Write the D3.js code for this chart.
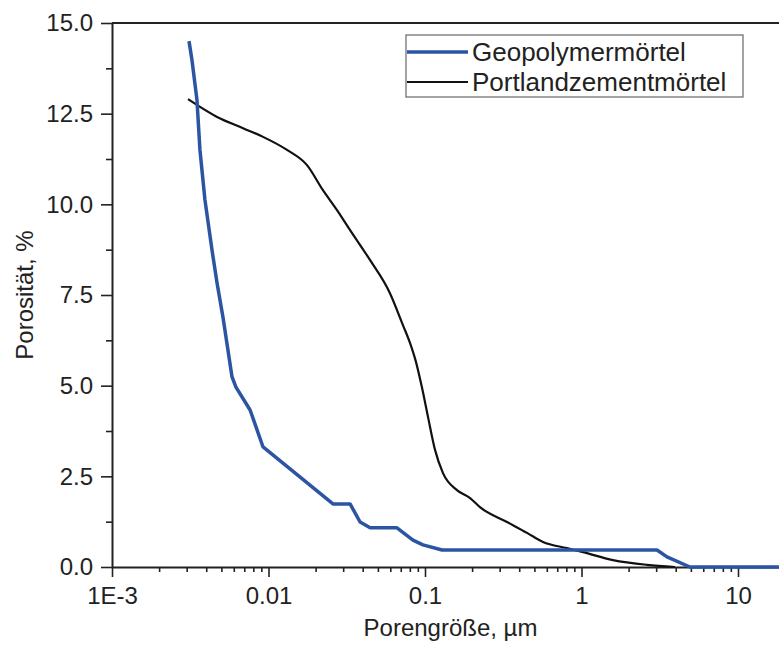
<!DOCTYPE html>
<html>
<head>
<meta charset="utf-8">
<script src="https://cdn.jsdelivr.net/npm/d3@7"></script>
<style>
  body { margin: 0; background: #fff; }
  svg { display: block; font-family: 'Liberation Sans', Arial, sans-serif; }
</style>
</head>
<body>
<svg id="chart" width="779" height="647"></svg>
<script>
// pore size (µm) and porosity (%)
const geoSize = [0.003105, 0.003243, 0.00349, 0.003647, 0.003926, 0.004355, 0.00469, 0.005117, 0.005847, 0.006194,
    0.007627, 0.009226, 0.02582, 0.03321, 0.03847, 0.0446, 0.06622, 0.08375, 0.09706, 0.1285,
    3.036, 3.516, 4.932, 20];
const geoPoro = [14.50, 13.98, 12.88, 11.50, 10.12, 8.74, 7.83, 6.89, 5.24, 4.96,
    4.33, 3.31, 1.74, 1.74, 1.24, 1.08, 1.08, 0.74, 0.61, 0.47,
    0.47, 0.28, 0, 0];

const ptzSize = [0.00306, 0.00469, 0.006875, 0.009226, 0.01313, 0.01762, 0.02228, 0.0274, 0.03321, 0.0446,
    0.0597, 0.07226, 0.08017, 0.08762, 0.09572, 0.1045, 0.1159, 0.1303, 0.16, 0.1941, 0.2244,
    0.3342, 0.4487, 0.5676, 0.8072, 1.023, 1.589, 2.624, 3.955];
const ptzPoro = [12.90, 12.41, 12.10, 11.86, 11.50, 11.08, 10.39, 9.84, 9.29, 8.46,
    7.55, 6.67, 6.18, 5.65, 4.94, 4.14, 3.23, 2.59, 2.12, 1.90, 1.65,
    1.24, 0.94, 0.69, 0.52, 0.41, 0.19, 0.06, 0];

const xMajor = [0.001, 0.01, 0.1, 1, 10];
const xLabels = ['1E-3', '0.01', '0.1', '1', '10'];
const yMajor = [0, 2.5, 5, 7.5, 10, 12.5, 15];
const yMinor = [1.25, 3.75, 6.25, 8.75, 11.25, 13.75];

const seriesNames = ['Geopolymermörtel', 'Portlandzementmörtel'];
const seriesColors = ['#2b55a3', '#111'];

const margin = { top: 23, right: 0, bottom: 80, left: 112 };
const W = 779, H = 647;
const svg = d3.select('#chart');

const x = d3.scaleLog()
    .domain([0.001, 18.28])
    .range([margin.left, W - margin.right]);
const y = d3.scaleLinear()
    .domain([0, 15])
    .range([H - margin.bottom, margin.top]);

// minor ticks 2..9 of each decade
let xMinor = [];
for (let d = 0.001; d < 20; d *= 10) {
    for (let k = 2; k <= 9; k++) {
        const v = d * k;
        if (v < 18.28) xMinor.push(v);
    }
}

svg.append('clipPath').attr('id', 'plot-clip')
    .append('rect')
    .attr('x', margin.left).attr('y', margin.top - 2)
    .attr('width', W - margin.left).attr('height', H - margin.bottom - margin.top + 4);

// top frame line
svg.append('line')
    .attr('x1', margin.left).attr('x2', W)
    .attr('y1', margin.top).attr('y2', margin.top)
    .attr('stroke', '#222').attr('stroke-width', 2);

svg.append('g')
    .attr('transform', `translate(0,${H - margin.bottom})`)
    .call(d3.axisBottom(x).tickValues(xMajor).tickFormat((d, i) => xLabels[i]).tickSize(10).tickSizeOuter(0).tickPadding(10));
svg.append('g')
    .attr('transform', `translate(0,${H - margin.bottom})`)
    .call(d3.axisBottom(x).tickValues(xMinor).tickFormat('').tickSize(5).tickSizeOuter(0))
    .select('.domain').remove();

svg.append('g')
    .attr('transform', `translate(${margin.left},0)`)
    .call(d3.axisLeft(y).tickValues(yMajor).tickFormat(d3.format('.1f')).tickSize(11).tickSizeOuter(0).tickPadding(8));
svg.append('g')
    .attr('transform', `translate(${margin.left},0)`)
    .call(d3.axisLeft(y).tickValues(yMinor).tickFormat('').tickSize(6).tickSizeOuter(0))
    .select('.domain').remove();

svg.selectAll('.domain').attr('stroke', '#222').attr('stroke-width', 2);
svg.selectAll('.tick line').attr('stroke', '#222').attr('stroke-width', 1.6);
svg.selectAll('.tick text')
    .attr('font-family', "'Liberation Sans', Arial, sans-serif")
    .attr('font-size', 24)
    .attr('fill', '#222');

// axis titles
svg.append('text')
    .attr('x', (margin.left + W) / 2 + 5)
    .attr('y', 636)
    .attr('text-anchor', 'middle')
    .attr('font-size', 24)
    .attr('fill', '#222')
    .text('Porengröße, µm');

svg.append('text')
    .attr('transform', `translate(33,${(margin.top + H - margin.bottom) / 2}) rotate(-90)`)
    .attr('text-anchor', 'middle')
    .attr('font-size', 24)
    .attr('fill', '#222')
    .text('Porosität, %');

// curves
const line = d3.line()
    .x(d => x(d[0]))
    .y(d => y(d[1]));

const geoData = geoSize.map((s, i) => [s, geoPoro[i]]);
const ptzData = ptzSize.map((s, i) => [s, ptzPoro[i]]);

const plot = svg.append('g').attr('clip-path', 'url(#plot-clip)');

plot.append('path')
    .datum(ptzData)
    .attr('fill', 'none')
    .attr('stroke', seriesColors[1])
    .attr('stroke-width', 2.2)
    .attr('stroke-linejoin', 'round')
    .attr('d', line.curve(d3.curveMonotoneX));

plot.append('path')
    .datum(geoData)
    .attr('fill', 'none')
    .attr('stroke', seriesColors[0])
    .attr('stroke-width', 3.5)
    .attr('stroke-linejoin', 'round')
    .attr('d', line.curve(d3.curveLinear));

// legend
const legend = svg.append('g').attr('transform', 'translate(406,35)');
legend.append('rect')
    .attr('width', 337).attr('height', 62)
    .attr('fill', '#fff')
    .attr('stroke', '#666').attr('stroke-width', 1.2);

seriesNames.forEach((name, i) => {
    const ly = 17 + i * 30;
    legend.append('line')
        .attr('x1', 1).attr('x2', 62)
        .attr('y1', ly).attr('y2', ly)
        .attr('stroke', seriesColors[i])
        .attr('stroke-width', i === 0 ? 3.5 : 2.2);
    legend.append('text')
        .attr('x', 66).attr('y', ly + 9)
        .attr('font-size', 26)
        .attr('fill', '#222')
        .text(name);
});
</script>
</body>
</html>
